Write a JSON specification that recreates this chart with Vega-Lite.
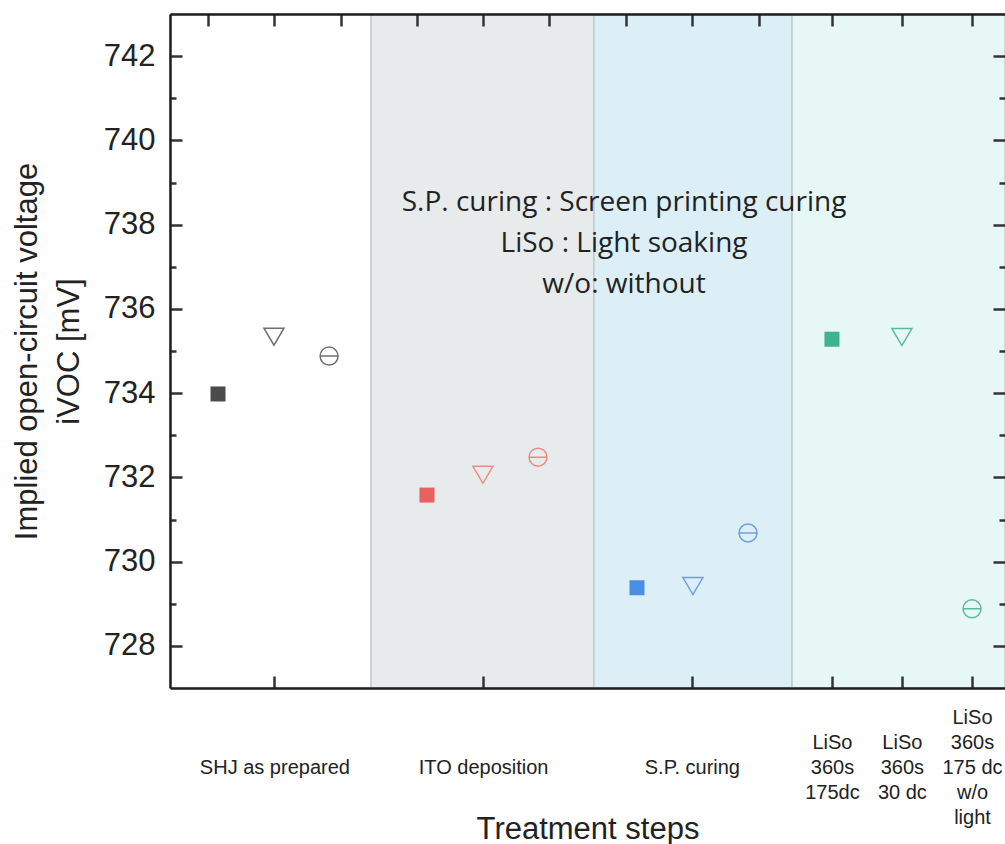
{
  "$schema": "https://vega.github.io/schema/vega-lite/v6.json",
  "width": 835,
  "height": 674,
  "autosize": {"type": "none"},
  "padding": {"left": 170, "top": 14, "right": 0, "bottom": 156},
  "background": "white",
  "config": {
    "view": {"stroke": null},
    "axis": {
      "grid": false,
      "domainColor": "#1e1e1e",
      "domainWidth": 2.5,
      "tickColor": "#333333",
      "tickWidth": 2.5,
      "labelFont": "Liberation Sans",
      "titleFont": "Liberation Sans",
      "labelColor": "#222222",
      "titleColor": "#222222",
      "titleFontWeight": "normal"
    }
  },
  "datasets": {
    "bands": [
      {"stage": "SHJ as prepared", "start": 0.5, "end": 1.463},
      {"stage": "ITO deposition", "start": 1.463, "end": 2.531},
      {"stage": "S.P. curing", "start": 2.531, "end": 3.48},
      {"stage": "Light soaking", "start": 3.48, "end": 4.5}
    ],
    "points": [
      {"group": "SHJ", "kind": "square", "pos": 0.73, "voc": 733.98},
      {"group": "SHJ", "kind": "triangle", "pos": 0.998, "voc": 735.34},
      {"group": "SHJ", "kind": "circle", "pos": 1.262, "voc": 734.88},
      {"group": "ITO", "kind": "square", "pos": 1.731, "voc": 731.58},
      {"group": "ITO", "kind": "triangle", "pos": 1.999, "voc": 732.06},
      {"group": "ITO", "kind": "circle", "pos": 2.263, "voc": 732.48},
      {"group": "SP", "kind": "square", "pos": 2.737, "voc": 729.38},
      {"group": "SP", "kind": "triangle", "pos": 3.005, "voc": 729.42},
      {"group": "SP", "kind": "circle", "pos": 3.269, "voc": 730.68},
      {"group": "LiSo", "kind": "square", "pos": 3.671, "voc": 735.28},
      {"group": "LiSo", "kind": "triangle", "pos": 4.006, "voc": 735.33},
      {"group": "LiSo", "kind": "circle", "pos": 4.342, "voc": 728.88}
    ],
    "notes": [
      {"note": "S.P. curing : Screen printing curing\nLiSo : Light soaking\nw/o: without", "pos": 2.675, "voc": 738.51}
    ]
  },
  "resolve": {"axis": {"x": "independent", "y": "independent"}},
  "layer": [
    {
      "data": {"name": "bands"},
      "mark": {"type": "rect", "stroke": "#b7c0c4", "strokeWidth": 1},
      "encoding": {
        "x": {
          "field": "start",
          "type": "quantitative",
          "scale": {"domain": [0.5, 4.5], "nice": false, "zero": false},
          "axis": {
            "orient": "bottom",
            "zindex": 1,
            "values": [1, 2, 3, 3.671, 4.006, 4.342],
            "tickSize": -12,
            "labelFontSize": 20,
            "labelLineHeight": 25,
            "labelBaseline": "middle",
            "labelPadding": {
              "condition": [
                {"test": "datum.value < 3.3", "value": 91},
                {"test": "datum.value < 4.2", "value": 66}
              ],
              "value": 41
            },
            "labelFlush": false,
            "labelOverlap": false,
            "labelExpr": "datum.value < 1.5 ? 'SHJ as prepared' : datum.value < 2.5 ? 'ITO deposition' : datum.value < 3.3 ? 'S.P. curing' : datum.value < 3.8 ? ['LiSo', '360s', '175dc'] : datum.value < 4.2 ? ['LiSo', '360s', '30 dc'] : ['LiSo', '360s', '175 dc', 'w/o', 'light']",
            "title": "Treatment steps",
            "titleFontSize": 31,
            "titleY": 141,
            "titleBaseline": "middle"
          }
        },
        "x2": {"field": "end"},
        "fill": {
          "field": "stage",
          "type": "nominal",
          "scale": {
            "domain": ["SHJ as prepared", "ITO deposition", "S.P. curing", "Light soaking"],
            "range": ["#ffffff", "#e7ebeb", "#dceef6", "#e6f7f6"]
          },
          "legend": null
        }
      }
    },
    {
      "data": {"name": "points"},
      "transform": [{"filter": "datum.kind === 'square'"}],
      "mark": {"type": "point", "shape": "square", "filled": true, "opacity": 1, "size": 225},
      "encoding": {
        "x": {
          "field": "pos",
          "type": "quantitative",
          "axis": {
            "orient": "top",
            "zindex": 1,
            "values": [0.682, 1, 1.319, 1.683, 2, 2.316, 2.685, 3, 3.321, 3.671, 4.006, 4.342],
            "tickSize": -12,
            "labels": false,
            "title": null
          }
        },
        "y": {
          "field": "voc",
          "type": "quantitative",
          "scale": {"domain": [727, 743], "nice": false, "zero": false},
          "axis": {
            "orient": "left",
            "zindex": 1,
            "values": [728, 729, 730, 731, 732, 733, 734, 735, 736, 737, 738, 739, 740, 741, 742],
            "tickSize": {"condition": {"test": "datum.value % 2 === 0", "value": -12}, "value": -6},
            "labelExpr": "datum.value % 2 === 0 ? datum.label : ''",
            "labelFontSize": 31,
            "labelPadding": 27,
            "labelBaseline": "middle",
            "title": ["Implied open-circuit voltage", "iVOC [mV]"],
            "titleFontSize": 31,
            "titleLineHeight": 42,
            "titleAngle": -90,
            "titleAlign": "center",
            "titleBaseline": "middle",
            "titleX": -143,
            "titleY": 337
          }
        },
        "color": {
          "field": "group",
          "type": "nominal",
          "scale": {"domain": ["SHJ", "ITO", "SP", "LiSo"], "range": ["#4b4b4b", "#e9615f", "#4a8fe3", "#3db48c"]},
          "legend": null
        }
      }
    },
    {
      "data": {"name": "points"},
      "transform": [{"filter": "datum.kind === 'triangle'"}],
      "mark": {"type": "point", "shape": "M-1,-0.85L1,-0.85L0,0.85Z", "filled": false, "strokeWidth": 1.5, "opacity": 1, "size": 400},
      "encoding": {
        "x": {"field": "pos", "type": "quantitative", "axis": null},
        "y": {
          "field": "voc",
          "type": "quantitative",
          "axis": {
            "orient": "right",
            "zindex": 1,
            "values": [728, 729, 730, 731, 732, 733, 734, 735, 736, 737, 738, 739, 740, 741, 742],
            "tickSize": {"condition": {"test": "datum.value % 2 === 0", "value": -12}, "value": -6},
            "labels": false,
            "domain": false,
            "title": null
          }
        },
        "stroke": {
          "field": "group",
          "type": "nominal",
          "scale": {"domain": ["SHJ", "ITO", "SP", "LiSo"], "range": ["#707070", "#ee8a86", "#6f9ee0", "#5bbb97"]},
          "legend": null
        }
      }
    },
    {
      "data": {"name": "points"},
      "transform": [{"filter": "datum.kind === 'circle'"}],
      "mark": {"type": "point", "shape": "M-1,0A1,1,0,1,1,1,0A1,1,0,1,1,-1,0ZM-1,0L1,0", "filled": false, "strokeWidth": 1.5, "opacity": 1, "size": 324},
      "encoding": {
        "x": {"field": "pos", "type": "quantitative", "axis": null},
        "y": {"field": "voc", "type": "quantitative", "axis": null},
        "stroke": {"field": "group", "type": "nominal", "legend": null}
      }
    },
    {
      "data": {"name": "notes"},
      "mark": {"type": "text", "font": "Open Sans", "fontSize": 28, "lineHeight": 41, "lineBreak": "\n", "align": "center", "baseline": "middle", "color": "#222222"},
      "encoding": {
        "x": {"field": "pos", "type": "quantitative", "axis": null},
        "y": {"field": "voc", "type": "quantitative", "axis": null},
        "text": {"field": "note"}
      }
    }
  ]
}
